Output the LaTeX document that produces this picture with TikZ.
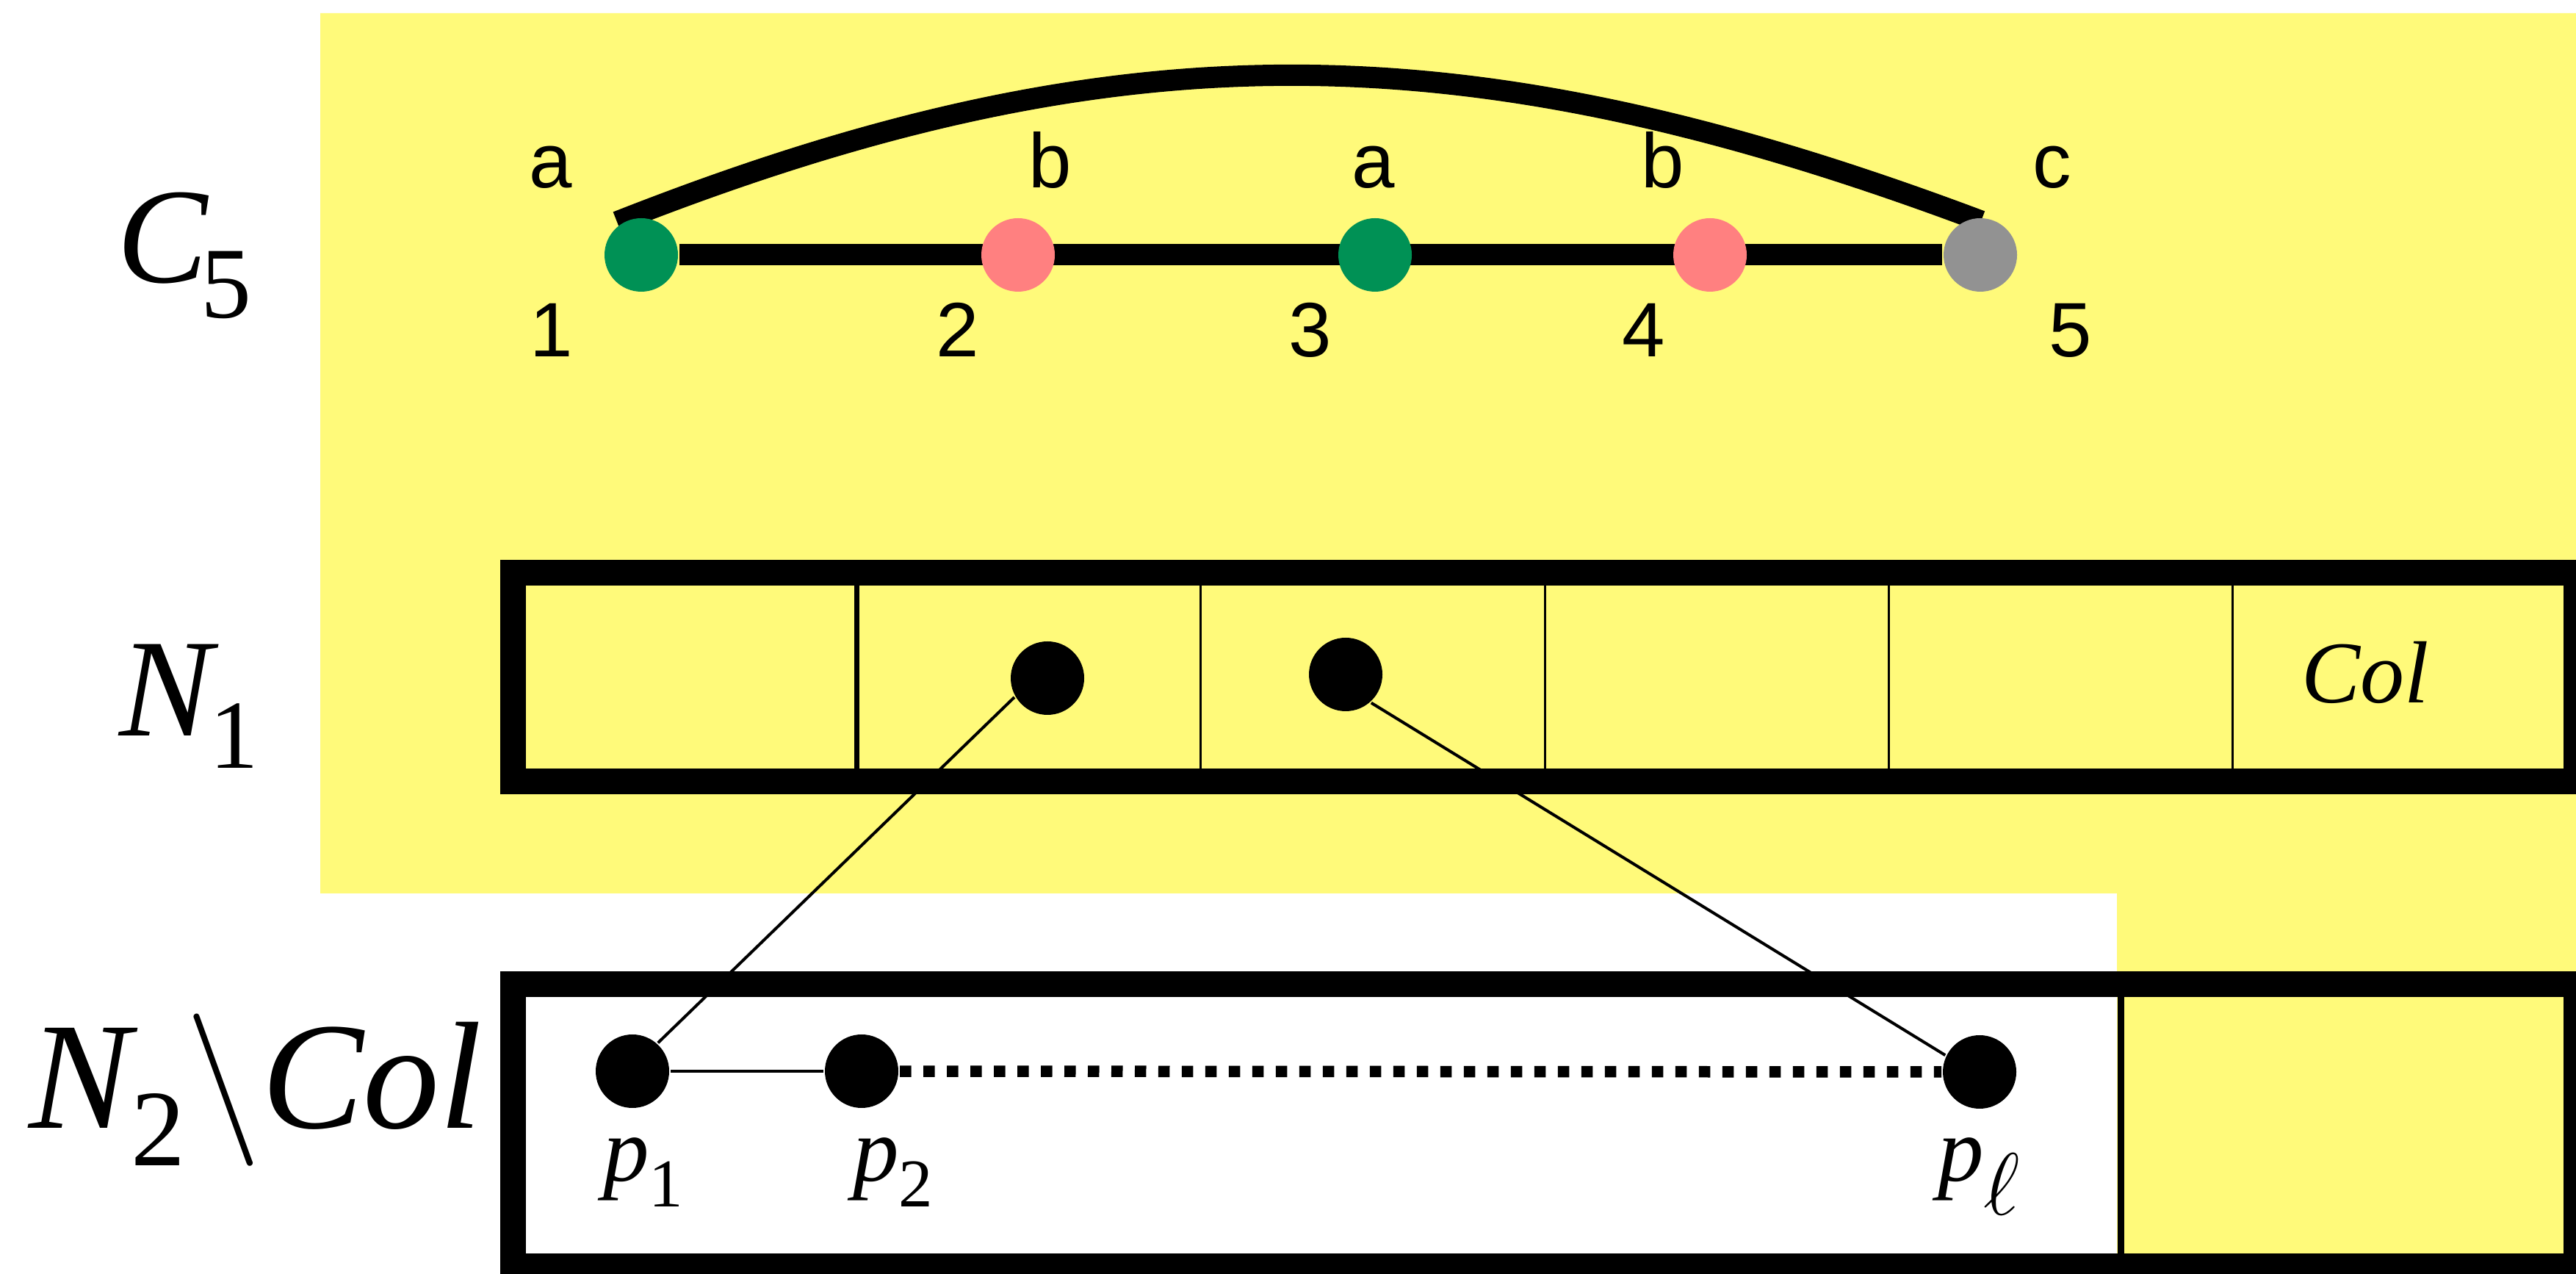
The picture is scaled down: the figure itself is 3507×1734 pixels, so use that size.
\documentclass[tikz,border=0pt]{standalone}
\usepackage{fontspec}
\setmainfont{Liberation Serif}
\newfontfamily\lsans{Liberation Sans}
\definecolor{bgyellow}{RGB}{255,250,122}
\definecolor{vgreen}{RGB}{0,145,85}
\definecolor{vpink}{RGB}{255,128,128}
\definecolor{vgray}{RGB}{146,146,146}
\pgfdeclarelayer{bglayer}
\pgfdeclarelayer{edgelayer}
\pgfsetlayers{bglayer,edgelayer,main}
\begin{document}
\begin{tikzpicture}[x=0.1pt,y=-0.1pt,
  dot/.style={circle,minimum size=10pt,inner sep=0pt,fill=black},
  gdot/.style={dot,fill=vgreen},
  pdot/.style={dot,fill=vpink},
  ydot/.style={dot,fill=vgray},
  slabel/.style={font=\lsans\fontsize{10.5}{12}\selectfont,anchor=base,inner sep=0pt},
  mlabel/.style={anchor=base west,inner sep=0pt},
  boxline/.style={line width=3.5pt},
  thinline/.style={line width=0.4pt},
  thickedge/.style={line width=2.9pt}]
\useasboundingbox (0,0) rectangle (3507,1734);
\begin{pgfonlayer}{bglayer}
  \fill[white] (0,0) rectangle (3507,1734);
  \fill[bgyellow] (436,18) -- (3507,18) -- (3507,1734) -- (2882,1734) -- (2882,1216) -- (436,1216) -- cycle;
\end{pgfonlayer}

% C5 graph
\node[gdot] (n1) at (873,347) {};
\node[pdot] (n2) at (1386,347) {};
\node[gdot] (n3) at (1872,347) {};
\node[pdot] (n4) at (2328,347) {};
\node[ydot] (n5) at (2696,347) {};
\begin{pgfonlayer}{edgelayer}
  \draw[thickedge] (n1) -- (n5);
  \draw[thickedge] ([shift={(-33,-45)}]n1.center) .. controls +(680,-268) and +(-700,-263) .. ([shift={(1,-46)}]n5.center);
\end{pgfonlayer}

\node[slabel] (ta1) at (750,256) {a};
\node[slabel] (tb2) at (1430,256) {b};
\node[slabel] (ta3) at (1870,256) {a};
\node[slabel] (tb4) at (2264,256) {b};
\node[slabel] (tc5) at (2794,256) {c};
\node[slabel] (b1) at (751,486) {1};
\node[slabel] (b2) at (1304,486) {2};
\node[slabel] (b3) at (1784,486) {3};
\node[slabel] (b4) at (2238,486) {4};
\node[slabel] (b5) at (2819,486) {5};

\node[mlabel,font=\fontsize{18.5}{19}\selectfont] (lc5) at (158,385) {\textit{C}\kern-1.2pt\raisebox{-4.8pt}{\fontsize{13.8}{14}\selectfont 5}};

% N1 box
\draw[boxline] (698.5,779.5) rectangle (3507.5,1063.5);
\draw[line width=0.65pt] (1166.7,797) -- (1166.7,1046);
\draw[line width=0.3pt] (1634.8,797) -- (1634.8,1046);
\draw[line width=0.3pt] (2103,797) -- (2103,1046);
\draw[line width=0.3pt] (2571,797) -- (2571,1046);
\draw[line width=0.3pt] (3039,797) -- (3039,1046);
\node[dot] (u1) at (1426,923) {};
\node[dot] (u2) at (1832,918) {};
\node[anchor=base,inner sep=0pt,font=\itshape\fontsize{12}{14}\selectfont] (col) at (3220,957) {Col};
\node[mlabel,font=\fontsize{19}{19}\selectfont] (ln1) at (160,1002) {\textit{N}\kern-1.2pt\raisebox{-4.4pt}{\fontsize{13.3}{14}\selectfont 1}};

% N2 box
\draw[boxline] (698.5,1339.5) rectangle (3507.5,1723.5);
\draw[line width=0.9pt] (2887,1357) -- (2887,1706);
\node[dot] (p1) at (861,1458) {};
\node[dot] (p2) at (1173,1458) {};
\node[dot] (pl) at (2695,1459) {};
\draw[thinline] (p1) -- (p2);
\draw[line width=1.55pt,dash pattern=on 1.55pt off 1.65pt] (p2) -- (pl);
\draw[thinline] (u1.210.6) -- (p1.48);
\draw[thinline] (u2.312.6) -- (pl.154.5);

\node[mlabel,font=\fontsize{12.5}{13}\selectfont] (lp1) at (819,1608) {\textit{p}\raisebox{-3.5pt}{\fontsize{9.3}{10}\selectfont 1}};
\node[mlabel,font=\fontsize{12.5}{13}\selectfont] (lp2) at (1159,1608) {\textit{p}\raisebox{-3.5pt}{\fontsize{9.3}{10}\selectfont 2}};
\node[mlabel,font=\fontsize{12.5}{13}\selectfont] (lpl) at (2636,1608) {\textit{p}\raisebox{-4.6pt}{\fontsize{12}{12}\selectfont$\ell$}};
\node[mlabel,font=\fontsize{20.8}{21}\selectfont] (ln2) at (38,1536) {\textit{N}\kern-1pt\raisebox{-5.1pt}{\fontsize{14.8}{15}\selectfont 2}$\backslash$\textit{Col}};
\end{tikzpicture}
\end{document}
